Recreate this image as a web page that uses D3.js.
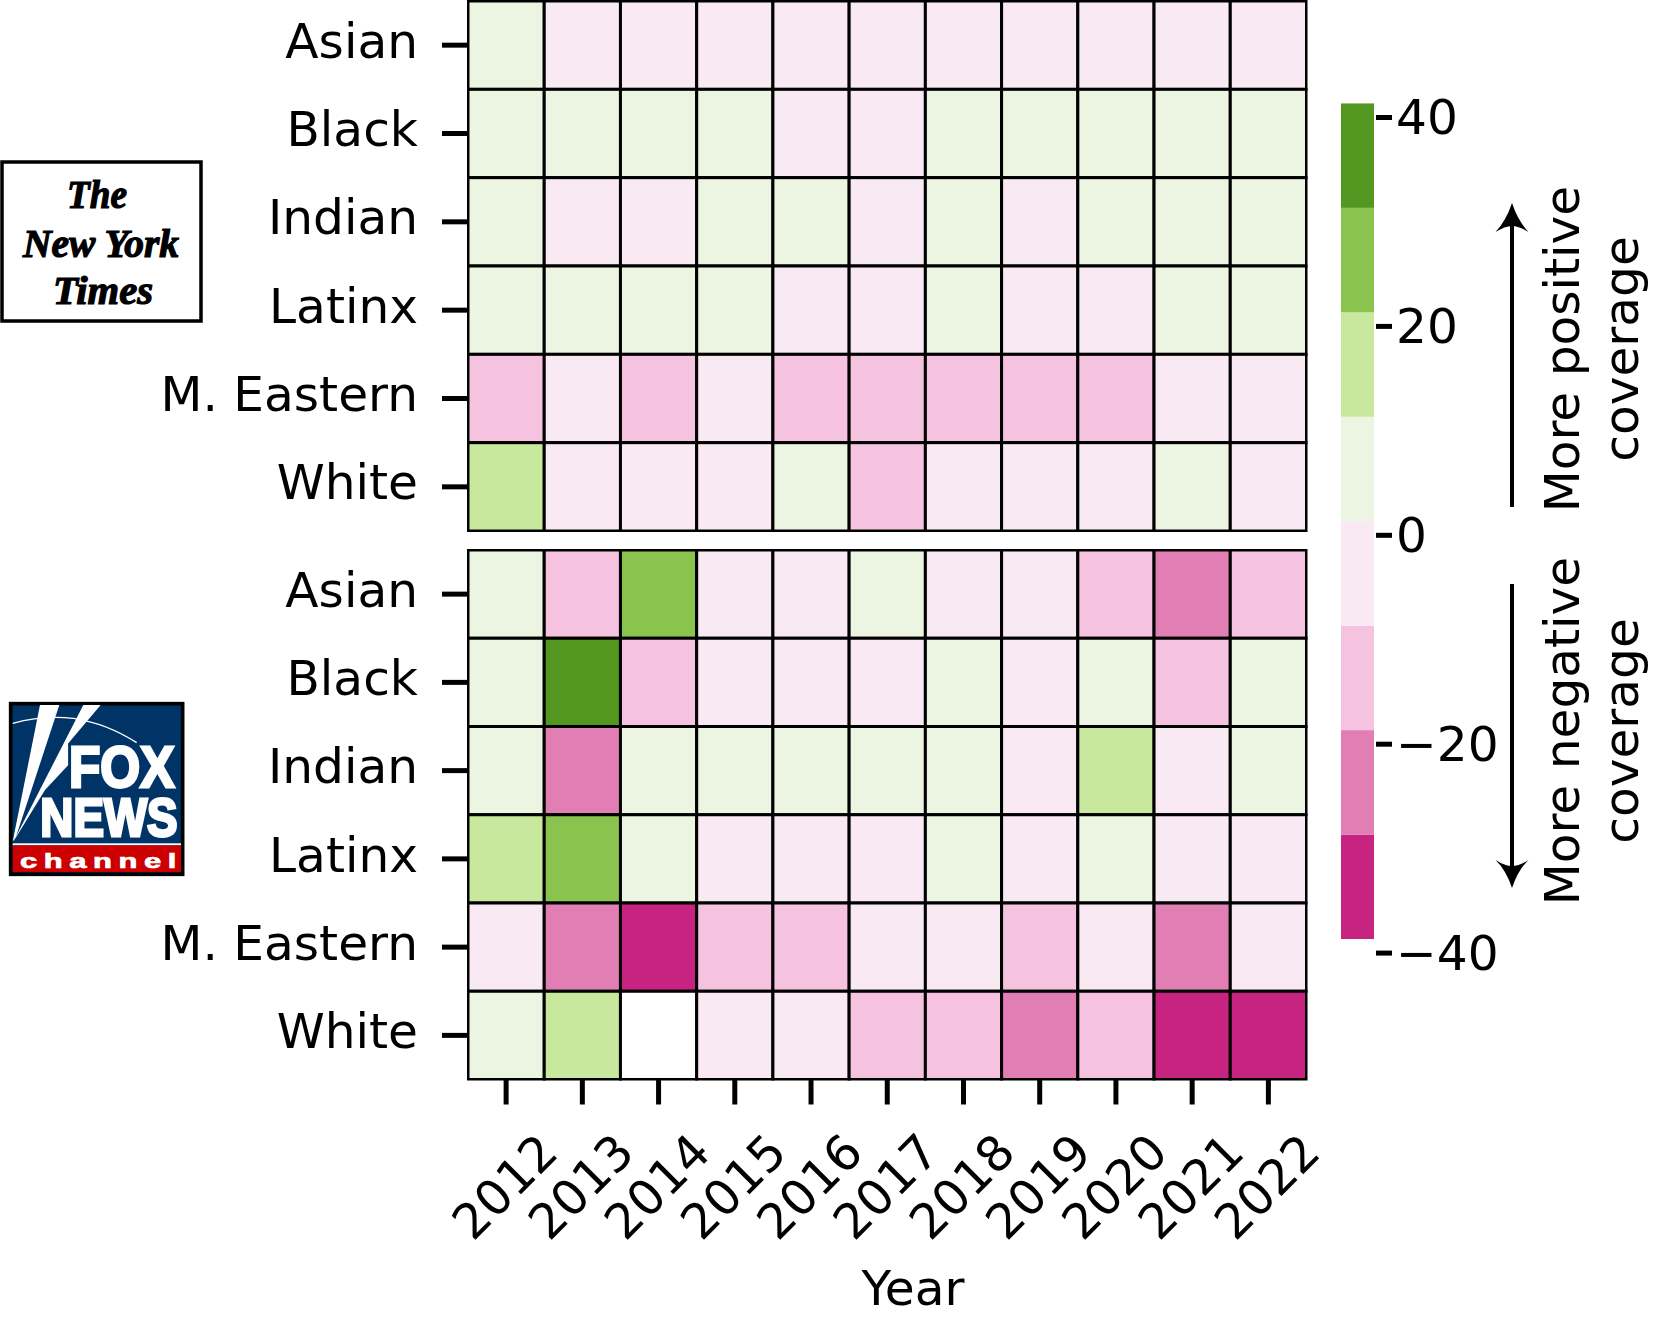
<!DOCTYPE html>
<html><head><meta charset="utf-8">
<script src="https://cdn.jsdelivr.net/npm/d3@7"></script>
<style>html,body{margin:0;padding:0;background:#fff}svg{display:block}text{font-family:"DejaVu Sans",sans-serif;fill:#000}</style>
</head><body><svg id="c" width="1660" height="1327"></svg>
<script>
const years=["2012","2013","2014","2015","2016","2017","2018","2019","2020","2021","2022"];
const groups=["Asian","Black","Indian","Latinx","M. Eastern","White"];
const nytValues=[
[6,-4,-4,-4,-4,-4,-4,-4,-4,-4,-4],
[6,6,6,6,-4,-4,6,6,6,6,6],
[6,-4,-4,6,6,-4,6,-4,6,6,6],
[6,6,6,6,-4,-4,6,-4,-4,6,6],
[-14,-4,-14,-4,-14,-14,-14,-14,-14,-4,-4],
[16,-4,-4,-4,6,-14,-4,-4,-4,6,-4]];
const foxValues=[
[6,-14,26,-4,-4,6,-4,-4,-14,-24,-14],
[6,36,-14,-4,-4,-4,6,-4,6,-14,6],
[6,-24,6,6,6,6,6,-4,16,-4,6],
[16,26,6,-4,-4,-4,6,-4,6,-4,-4],
[-4,-24,-34,-14,-14,-4,-4,-14,-4,-24,-4],
[6,16,null,-4,-4,-14,-14,-24,-14,-34,-34]];
const bandEdges=[-38.7,-28.7,-18.7,-8.7,1.3,11.3,21.3,31.3,41.3];
const bandColors=["#c62480","#e17fb5","#f5c3e0","#f9e9f2","#ecf5e1","#c8e99d","#8bc34f","#539721"];
const cbTicks=[-40,-20,0,20,40];

const svg=d3.select("#c");
const FS=48.6;
const X0=468,X1=1306.5;
const color=d3.scaleThreshold().domain(bandEdges.slice(1,-1)).range(bandColors);
const x=d3.scaleBand().domain(years).range([X0,X1]);

function panel(values,y0,y1,id,withX){
  const y=d3.scaleBand().domain(groups).range([y0,y1]);
  svg.append("clipPath").attr("id",id).append("rect").attr("x",X0-1).attr("y",y0-1).attr("width",X1-X0+2).attr("height",y1-y0+2);
  const g=svg.append("g").attr("clip-path",`url(#${id})`);
  groups.forEach((r,i)=>years.forEach((c,j)=>{
    const v=values[i][j];
    g.append("rect").attr("x",x(c)).attr("y",y(r)).attr("width",x.bandwidth()).attr("height",y.bandwidth())
     .attr("fill",v===null?"#fff":color(v)).attr("stroke","#000").attr("stroke-width",3);
  }));
  const ya=svg.append("g").attr("transform",`translate(${X0-1},0)`).call(d3.axisLeft(y).tickSize(25).tickPadding(24));
  ya.select(".domain").remove();
  ya.selectAll("line").attr("stroke","#000").attr("stroke-width",5);
  ya.selectAll("text").attr("font-size",FS).attr("font-family","DejaVu Sans").attr("dy","0.26em").attr("y",0);
  if(withX){
    const xa=svg.append("g").attr("transform",`translate(0,${y1})`).call(d3.axisBottom(x).tickSize(25));
    xa.select(".domain").remove();
    xa.selectAll("line").attr("stroke","#000").attr("stroke-width",5);
    xa.selectAll("text").attr("font-size",FS).attr("font-family","DejaVu Sans")
      .attr("text-anchor","middle").attr("dominant-baseline","central").attr("dy",0)
      .attr("transform","translate(-1.5,107) rotate(-45)").attr("y",0).attr("x",0);
  }
}
panel(nytValues,1,531,"p1",false);
panel(foxValues,550,1079.5,"p2",true);

svg.append("text").attr("x",913).attr("y",1305).attr("text-anchor","middle").attr("font-size",FS).text("Year");

// colourbar
const cb=d3.scaleLinear().domain([-40,40]).range([952.6,117]);
const CBX=1341,CBW=33;
bandColors.forEach((c,i)=>{
  svg.append("rect").attr("x",CBX).attr("width",CBW)
    .attr("y",cb(bandEdges[i+1])).attr("height",cb(bandEdges[i])-cb(bandEdges[i+1])).attr("fill",c);
});
const ca=svg.append("g").attr("transform",`translate(${CBX+CBW+2},0)`)
  .call(d3.axisRight(cb).tickValues(cbTicks).tickSize(16).tickPadding(4).tickFormat(d=>d<0?"\u2212"+(-d):""+d));
ca.select(".domain").remove();
ca.selectAll("line").attr("stroke","#000").attr("stroke-width",5);
ca.selectAll("text").attr("font-size",FS).attr("font-family","DejaVu Sans").attr("dy","0.34em");

// direction arrows and captions
function vtext(xb,yc,t){svg.append("text").attr("text-anchor","middle").attr("font-size",FS)
  .attr("transform",`translate(${xb},${yc}) rotate(-90)`).text(t);}
vtext(1579,349,"More positive");vtext(1638,349,"coverage");
vtext(1579,731,"More negative");vtext(1638,731,"coverage");
const AX=1512;
svg.append("line").attr("x1",AX).attr("x2",AX).attr("y1",507).attr("y2",225).attr("stroke","#000").attr("stroke-width",4);
svg.append("path").attr("d",`M${AX},203Q${AX+6},221 ${AX+16.5},232Q${AX+7},226 ${AX},226Q${AX-7},226 ${AX-16.5},232Q${AX-6},221 ${AX},203Z`);
svg.append("line").attr("x1",AX).attr("x2",AX).attr("y1",584).attr("y2",866).attr("stroke","#000").attr("stroke-width",4);
svg.append("path").attr("d",`M${AX},888Q${AX+6},870 ${AX+16.5},860Q${AX+7},866 ${AX},866Q${AX-7},866 ${AX-16.5},860Q${AX-6},870 ${AX},888Z`);

// NYT logo
const nyt=svg.append("g");
nyt.append("rect").attr("x",2).attr("y",162).attr("width",199).attr("height",159).attr("fill","#fff").attr("stroke","#000").attr("stroke-width",3.5);
[["The",97,208,60,40],["New York",101,257,156,40],["Times",103,304,100,40]].forEach(d=>{
  nyt.append("text").attr("x",d[1]).attr("y",d[2]).attr("text-anchor","middle").attr("font-size",d[4])
    .style("font-family","'Liberation Serif',serif").attr("font-weight",700).attr("font-style","italic").attr("stroke","#000").attr("stroke-width",1.2)
    .attr("textLength",d[3]).attr("lengthAdjust","spacingAndGlyphs").text(d[0]);
});

// Fox News logo
const fox=svg.append("g").attr("transform","translate(0,690) scale(0.3333)");
fox.append("rect").attr("x",32).attr("y",41).attr("width",516).attr("height",512).attr("fill","#003366").attr("stroke","#000").attr("stroke-width",11);
fox.append("path").attr("d","M38,100Q130,75 220,85Q320,100 410,158").attr("fill","none").attr("stroke","#fff").attr("stroke-width",4);
fox.append("path").attr("d","M38,455L120,45L178,45L48,440Z").attr("fill","#fff");
fox.append("path").attr("d","M40,455L250,45L302,45L205,160L205,225L135,300Z").attr("fill","#fff");
const bold=(t,xp,yp,fs,len)=>fox.append("text").attr("x",xp).attr("y",yp).attr("font-size",fs)
  .style("font-family","'Liberation Sans',sans-serif").style("fill","#fff").attr("font-weight",700)
  .attr("textLength",len).attr("lengthAdjust","spacingAndGlyphs").text(t);
fox.append("rect").attr("x",205).attr("y",160).attr("width",325).attr("height",140).attr("fill","#003366");
bold("FOX",207,292,174,316).attr("stroke","#fff").attr("stroke-width",9);
bold("NEWS",121,437,162,412).attr("stroke","#fff").attr("stroke-width",9);
fox.append("rect").attr("x",38).attr("y",460).attr("width",505).attr("height",6).attr("fill","#fff");
fox.append("rect").attr("x",38).attr("y",466).attr("width",505).attr("height",80).attr("fill","#cc0000");
fox.append("text").attr("transform","translate(60,533) scale(1.5,1)").attr("font-size",62).style("font-family","'Liberation Sans',sans-serif").style("fill","#fff")
  .attr("font-weight",700).attr("stroke","#fff").attr("stroke-width",2).attr("textLength",313).attr("lengthAdjust","spacing").text("channel");
</script></body></html>
